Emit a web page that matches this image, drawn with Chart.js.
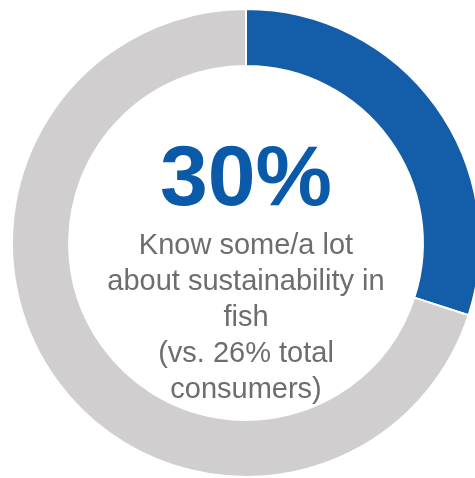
<!DOCTYPE html>
<html>
<head>
<meta charset="utf-8">
<script src="https://cdn.jsdelivr.net/npm/chart.js@4"></script>
<style>
    html, body { margin: 0; padding: 0; background: #fff; overflow: hidden; }
    #wrap { position: absolute; left: 0; top: 0; width: 492px; height: 486px; }
    .centro { position: absolute; left: 0; width: 492px; text-align: center; font-family: "Liberation Sans", Arial, sans-serif; }
    #pct { top: 132px; font-size: 86px; line-height: 86px; font-weight: bold; color: #0B5AAA; }
    #desc { top: 226px; font-size: 29px; line-height: 36px; color: #6F6C6D; }
</style>
</head>
<body>
<div id="wrap">
    <canvas id="grafico"></canvas>
</div>
<div class="centro" id="pct"></div>
<div class="centro" id="desc"></div>

<script>
// Datos
const categorias = ['Know some/a lot', 'Other'];
const valores = [30, 70];
const colores = ['#135DA9', '#D0CECF'];
const titulo = '30%';
const lineasTexto = ['Know some/a lot', 'about sustainability in', 'fish', '(vs. 26% total', 'consumers)'];

document.getElementById('pct').textContent = titulo;
document.getElementById('desc').innerHTML = lineasTexto.join('<br>');

const ctx = document.getElementById('grafico').getContext('2d');
new Chart(ctx, {
    type: 'doughnut',
    data: {
        labels: categorias,
        datasets: [{
            data: valores,
            backgroundColor: colores,
            borderColor: '#ffffff',
            borderWidth: 2
        }]
    },
    options: {
        responsive: true,
        maintainAspectRatio: false,
        animation: false,
        radius: 234,
        cutout: '75.6%',
        layout: { padding: 0 },
        plugins: {
            legend: { display: false },
            tooltip: { enabled: false }
        }
    }
});
</script>
</body>
</html>
